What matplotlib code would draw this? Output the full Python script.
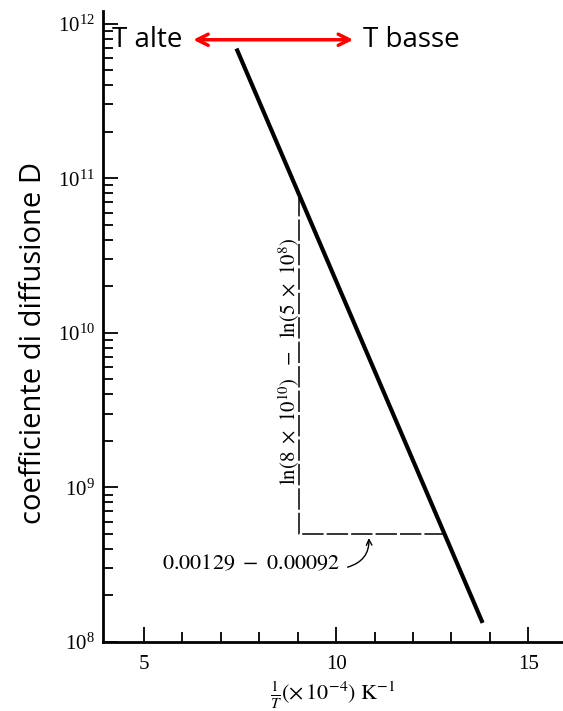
import matplotlib.pyplot as plt
from matplotlib.ticker import LogLocator, FixedLocator, NullFormatter

plt.rcParams['font.family'] = 'Liberation Serif'
plt.rcParams['mathtext.fontset'] = 'stix'

# D vs 1/T (x1e-4 K^-1)
inv_t = [7.41, 13.81]
diff_d = [6.9e11, 1.33e8]

# triangle used for the slope
tri_x = [9.04, 9.04, 12.81]
tri_y = [7.8e10, 5e8, 5e8]

x_major = [5, 10, 15]
x_minor = [6, 7, 8, 9, 11, 12, 13, 14]

fig = plt.figure(figsize=(5.63, 7.11), dpi=100)
ax = fig.add_axes([0.183, 0.097, 0.817, 0.887])

ax.plot(inv_t, diff_d, color='black', linewidth=3.0, solid_capstyle='butt')
ax.plot(tri_x, tri_y, color='black', linewidth=1.1, linestyle=(0, (14, 2)))

ax.set_yscale('log')
ax.set_xlim(3.94, 15.9)
ax.set_ylim(1e8, 1.2e12)

ax.spines['top'].set_visible(False)
ax.spines['right'].set_visible(False)
ax.spines['left'].set_linewidth(2)
ax.spines['bottom'].set_linewidth(2)

ax.xaxis.set_major_locator(FixedLocator(x_major))
ax.xaxis.set_minor_locator(FixedLocator(x_minor))
ax.yaxis.set_major_locator(LogLocator(base=10, numticks=10))
ax.yaxis.set_minor_locator(LogLocator(base=10, subs=range(2, 10), numticks=20))
ax.yaxis.set_minor_formatter(NullFormatter())
ax.tick_params(which='major', direction='in', length=11, width=1.3, labelsize=15)
ax.tick_params(which='minor', direction='in', length=7, width=1.3)
ax.tick_params(axis='x', pad=9)
ax.tick_params(axis='y', labelsize=15, pad=6)

ax.set_xlabel(r'$\frac{1}{T}(\times\,10^{-4})\ \mathrm{K}^{-1}$', fontsize=16, labelpad=4)
ax.set_ylabel('coefficiente di diffusione D', fontsize=21, family='Open Sans')
ax.yaxis.set_label_coords(-0.12, 0.474)

# text labels at the top
ax.text(0.02, 0.955, 'T alte', transform=ax.transAxes, fontsize=20,
        family='Open Sans', va='center', ha='left')
ax.text(0.565, 0.955, 'T basse', transform=ax.transAxes, fontsize=20,
        family='Open Sans', va='center', ha='left')
ax.annotate('', xy=(0.19, 0.955), xytext=(0.55, 0.955), xycoords='axes fraction',
            arrowprops=dict(arrowstyle='<->', color='red', lw=2.5, mutation_scale=20))

ax.text(8.78, 6.5e9, r'$\mathrm{ln}(8\ \times\ 10^{10})\ \ -\ \ \mathrm{ln}(5\ \times\ 10^{8})$',
        rotation=90, fontsize=15, ha='center', va='center')
ax.text(10.1, 3.16e8, r'$0.00129\ -\ 0.00092$', fontsize=16, ha='right', va='center')
ax.annotate('', xy=(10.85, 4.8e8), xytext=(10.3, 3.05e8),
            arrowprops=dict(arrowstyle='->', color='black', lw=1,
                            connectionstyle='arc3,rad=0.4', shrinkA=0, shrinkB=1))

fig.savefig('out.png', dpi=100)
